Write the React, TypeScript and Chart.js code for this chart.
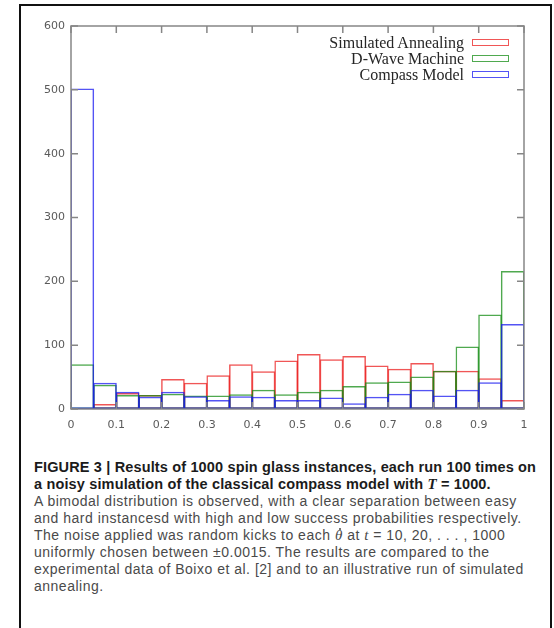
import React, { useEffect, useRef } from "react";
import { Chart, registerables } from "chart.js";

Chart.register(...registerables);

const binEdges = [0, 0.05, 0.1, 0.15, 0.2, 0.25, 0.3, 0.35, 0.4, 0.45, 0.5, 0.55, 0.6, 0.65, 0.7, 0.75, 0.8, 0.85, 0.9, 0.95, 1];
const annealing = [1, 8, 25, 22, 47, 41, 53, 70, 59, 76, 86, 78, 83, 68, 63, 72, 60, 60, 48, 14];
const dwave = [70, 38, 22, 22, 24, 21, 21, 23, 30, 23, 27, 30, 36, 42, 43, 51, 60, 98, 148, 216];
const compass = [502, 41, 27, 19, 27, 20, 14, 20, 19, 14, 14, 18, 9, 19, 24, 30, 21, 30, 42, 133];
const xTickLabels = ["0", "0.1", "0.2", "0.3", "0.4", "0.5", "0.6", "0.7", "0.8", "0.9", "1"];
const yTickLabels = ["0", "100", "200", "300", "400", "500", "600"];
const seriesNames = ["Simulated Annealing", "D-Wave Machine", "Compass Model"];
const seriesColors = ["rgba(235,30,30,0.75)", "rgba(20,140,20,0.75)", "rgba(25,25,240,0.75)"];

const toBins = (vals: number[]) =>
  vals.map((v, i) => ({ x: (binEdges[i] + binEdges[i + 1]) / 2, y: v }));

const framePlugin = {
  id: "frame",
  afterDatasetsDraw(chart: any) {
    const { ctx, chartArea: a, scales } = chart;
    ctx.save();
    ctx.strokeStyle = "#868686";
    ctx.lineWidth = 1.5;
    ctx.strokeRect(a.left, a.top, a.right - a.left, a.bottom - a.top);
    ctx.beginPath();
    scales.y.ticks.forEach((t: any) => {
      const py = scales.y.getPixelForValue(t.value);
      ctx.moveTo(a.left, py);
      ctx.lineTo(a.left + 7, py);
      ctx.moveTo(a.right, py);
      ctx.lineTo(a.right - 7, py);
    });
    scales.x.ticks.forEach((t: any) => {
      const px = scales.x.getPixelForValue(t.value);
      ctx.moveTo(px, a.top);
      ctx.lineTo(px, a.top + 7);
      ctx.moveTo(px, a.bottom);
      ctx.lineTo(px, a.bottom - 7);
    });
    ctx.stroke();
    ctx.restore();
  },
};

function HistChart() {
  const ref = useRef<HTMLCanvasElement | null>(null);
  useEffect(() => {
    if (!ref.current) return;
    const all = [annealing, dwave, compass];
    const chart = new Chart(ref.current, {
      type: "bar",
      data: {
        datasets: all.map((vals, k) => ({
          label: seriesNames[k],
          data: toBins(vals) as any,
          backgroundColor: "rgba(0,0,0,0)",
          borderColor: seriesColors[k],
          borderWidth: 1.5,
          borderSkipped: false,
          grouped: false,
          barPercentage: 1.044,
          categoryPercentage: 1,
          order: 3 - k,
        })),
      },
      options: {
        animation: false,
        responsive: false,
        devicePixelRatio: 1,
        layout: { padding: { top: 18, right: 25, left: 0, bottom: 0 } },
        plugins: { legend: { display: false }, tooltip: { enabled: false } },
        scales: {
          x: {
            type: "linear",
            min: 0,
            max: 1,
            offset: false,
            grid: { display: false, drawTicks: false },
            border: { display: false },
            ticks: {
              stepSize: 0.1,
              padding: 10,
              color: "#5a5a5a",
              font: { family: "DejaVu Sans", size: 11 },
              maxRotation: 0,
              callback: (v: any) => xTickLabels[Math.round(Number(v) * 10)],
            },
            afterFit: (s: any) => {
              s.height = 31;
            },
          },
          y: {
            min: 0,
            max: 600,
            grid: { display: false, drawTicks: false },
            border: { display: false },
            ticks: {
              stepSize: 100,
              padding: 6,
              color: "#5a5a5a",
              font: { family: "DejaVu Sans", size: 11 },
              callback: (v: any) => yTickLabels[Math.round(Number(v) / 100)],
            },
            afterFit: (s: any) => {
              s.width = 49;
            },
          },
        },
      },
      plugins: [framePlugin],
    });
    return () => chart.destroy();
  }, []);
  return <canvas ref={ref} width={527} height={432} style={{ display: "block" }} />;
}

const legendTop = [43, 59, 75];

export default function App() {
  const capBold: React.CSSProperties = { fontWeight: 700, color: "#1b1b1b", fontSize: 14.5, letterSpacing: 0.15 };
  const capReg: React.CSSProperties = { color: "#4a4a4a", fontSize: 14, letterSpacing: 0.5 };
  const line: React.CSSProperties = { whiteSpace: "nowrap", height: 17, lineHeight: "17px" };
  const mathI: React.CSSProperties = { fontFamily: "'Liberation Serif', serif", fontSize: 15 };
  return (
    <div style={{ position: "absolute", left: 0, top: 0, width: 554, height: 628, overflow: "hidden", background: "#fff" }}>
      <div style={{ position: "absolute", left: 19, top: 4, width: 529, height: 700, border: "2px solid #111" }} />
      <div style={{ position: "absolute", left: 22, top: 8, width: 527, height: 432 }}>
        <HistChart />
      </div>
      {seriesNames.map((n, k) => (
        <div key={n}>
          <div
            style={{
              position: "absolute",
              right: 554 - 464,
              top: legendTop[k] - 10,
              height: 20,
              lineHeight: "20px",
              fontFamily: "'Liberation Serif', serif",
              fontSize: 16,
              color: "#262626",
              whiteSpace: "nowrap",
            }}
          >
            {n}
          </div>
          <div
            style={{
              position: "absolute",
              left: 472,
              top: legendTop[k] - 4,
              width: 35,
              height: 5,
              border: `1.5px solid ${seriesColors[k]}`,
            }}
          />
        </div>
      ))}
      <div
        style={{
          position: "absolute",
          left: 34,
          top: 459,
          fontFamily: "'Liberation Sans', Arial, sans-serif",
        }}
      >
        <div style={{ ...line, ...capBold }}>FIGURE 3 | Results of 1000 spin glass instances, each run 100 times on</div>
        <div style={{ ...line, ...capBold }}>
          a noisy simulation of the classical compass model with <i style={mathI}>T</i> = 1000.
        </div>
        <div style={{ ...line, ...capReg }}>A bimodal distribution is observed, with a clear separation between easy</div>
        <div style={{ ...line, ...capReg }}>and hard instancesd with high and low success probabilities respectively.</div>
        <div style={{ ...line, ...capReg }}>
          The noise applied was random kicks to each{" "}
          <i style={{ ...mathI, position: "relative", display: "inline-block" }}>
            θ
            <span
              style={{
                position: "absolute",
                left: 4,
                top: 1,
                width: 2,
                height: 2,
                borderRadius: 1,
                background: "#4a4a4a",
              }}
            />
          </i>{" "}
          at <i style={mathI}>t</i> = 10, 20, . . . , 1000
        </div>
        <div style={{ ...line, ...capReg }}>uniformly chosen between ±0.0015. The results are compared to the</div>
        <div style={{ ...line, ...capReg }}>experimental data of Boixo et al. [2] and to an illustrative run of simulated</div>
        <div style={{ ...line, ...capReg }}>annealing.</div>
      </div>
    </div>
  );
}
